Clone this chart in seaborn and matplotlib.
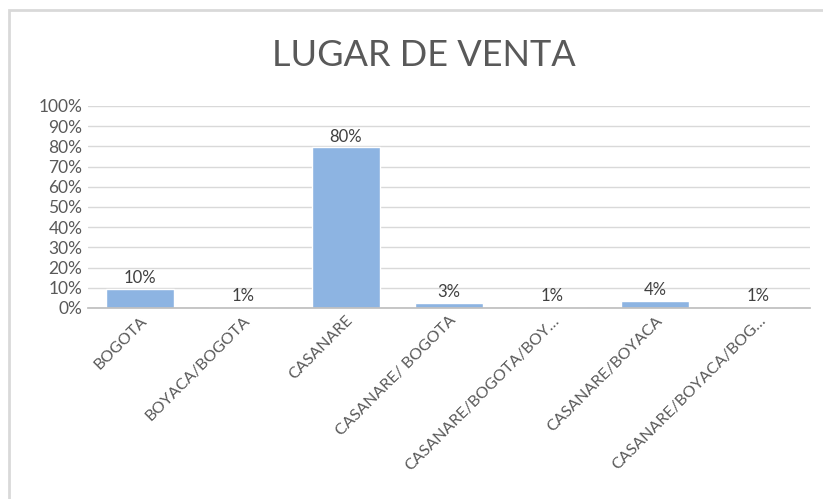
import matplotlib.pyplot as plt
import matplotlib.patches as mpatches
import pandas as pd
import seaborn as sns
from matplotlib.ticker import PercentFormatter, MultipleLocator

lugares = [
    "BOGOTA",
    "BOYACA/BOGOTA",
    "CASANARE",
    "CASANARE/ BOGOTA",
    "CASANARE/BOGOTA/BOY…",
    "CASANARE/BOYACA",
    "CASANARE/BOYACA/BOG…",
]
porcentaje = [0.096, 0.007, 0.796, 0.026, 0.007, 0.036, 0.007]

BAR_COLOR = "#8DB4E2"
TEXT_COLOR = "#595959"
GRID_COLOR = "#D9D9D9"

sns.set_theme(style="white")
plt.rcParams["font.family"] = ["Lato", "DejaVu Sans"]

df = pd.DataFrame({"lugar": lugares, "pct": porcentaje})

fig = plt.figure(figsize=(8.23, 4.99), dpi=100)
ax = fig.add_axes([88 / 823, 1 - 308 / 499, 722 / 823, 202 / 499])

sns.barplot(data=df, x="lugar", y="pct", color=BAR_COLOR, width=0.66,
            saturation=1, ax=ax)

for i, v in enumerate(df["pct"]):
    ax.text(i, v + 0.012, f"{v:.0%}", ha="center", va="bottom",
            fontsize=12, color="#404040")

ax.set_ylim(0, 1.0)
ax.yaxis.set_major_locator(MultipleLocator(0.1))
ax.yaxis.set_major_formatter(PercentFormatter(1.0, decimals=0))
ax.grid(axis="y", color=GRID_COLOR, lw=1)
ax.set_axisbelow(True)
for side in ["top", "right", "left"]:
    ax.spines[side].set_visible(False)
ax.spines["bottom"].set_color("#BFBFBF")
ax.tick_params(axis="y", length=0, labelsize=12.5, labelcolor=TEXT_COLOR, pad=4)
ax.tick_params(axis="x", length=0, labelsize=11.5, labelcolor=TEXT_COLOR, pad=4)
plt.setp(ax.get_xticklabels(), rotation=45, ha="right", rotation_mode="anchor")
ax.set_xlabel("")
ax.set_ylabel("")

fig.text(424 / 823, 1 - 55 / 499, "LUGAR DE VENTA", ha="center", va="center",
         fontsize=26, color=TEXT_COLOR)

# chart border
fig.patches.append(mpatches.Rectangle((9 / 823, -0.05), 1.1, 1 - 10 / 499 + 0.05,
                                      transform=fig.transFigure, fill=False,
                                      edgecolor=GRID_COLOR, lw=2))

fig.savefig("out.png", dpi=100)
